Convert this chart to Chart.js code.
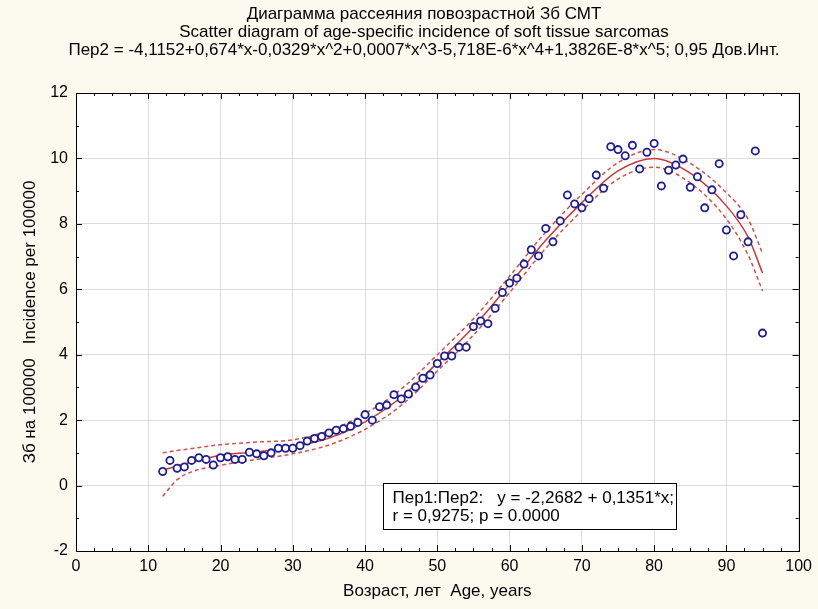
<!DOCTYPE html>
<html>
<head>
<meta charset="utf-8">
<script src="https://cdn.jsdelivr.net/npm/chart.js@4.4.1/dist/chart.umd.min.js"></script>
<style>
  html, body { margin: 0; padding: 0; background: #fcf9ef; }
  #wrap { width: 818px; height: 609px; position: relative; }
</style>
</head>
<body>
<div id="wrap"><canvas id="chart"></canvas></div>
<script>
// ages and incidence per 100000
const ages = [12, 13, 14, 15, 16, 17, 18, 19, 20, 21, 22, 23, 24, 25, 26, 27, 28, 29, 30, 31,
  32, 33, 34, 35, 36, 37, 38, 39, 40, 41, 42, 43, 44, 45, 46, 47, 48, 49, 50, 51,
  52, 53, 54, 55, 56, 57, 58, 59, 60, 61, 62, 63, 64, 65, 66, 67, 68, 69, 70, 71,
  72, 73, 74, 75, 76, 77, 78, 79, 80, 81, 82, 83, 84, 85, 86, 87, 88, 89, 90, 91,
  92, 93, 94, 95];
const incidence = [0.43, 0.77, 0.53, 0.57, 0.77, 0.85, 0.80, 0.63, 0.85, 0.88, 0.80, 0.80, 1.02, 0.97, 0.91, 1.00, 1.14, 1.14, 1.14, 1.22,
  1.36, 1.44, 1.50, 1.61, 1.69, 1.74, 1.81, 1.93, 2.17, 2.00, 2.41, 2.46, 2.78, 2.65, 2.80, 3.01, 3.28, 3.38, 3.73, 3.96,
  3.96, 4.23, 4.23, 4.86, 5.03, 4.95, 5.42, 5.90, 6.19, 6.34, 6.77, 7.21, 7.02, 7.86, 7.45, 8.09, 8.88, 8.61, 8.49, 8.77,
  9.49, 9.09, 10.36, 10.27, 10.08, 10.40, 9.68, 10.19, 10.46, 9.16, 9.64, 9.80, 9.98, 9.12, 9.44, 8.49, 9.04, 9.84, 7.81, 7.02,
  8.28, 7.45, 10.23, 4.66];

// fitted curve and 0.95 confidence band
const curveAges = [12, 14, 16, 20, 25, 30, 35, 40, 45, 50, 55, 60, 65, 70, 75, 80, 85, 90, 93, 95];
const fitValues = [0.47, 0.6, 0.72, 0.93, 1.03, 1.18, 1.45, 1.95, 2.7, 3.75, 4.85, 6.15, 7.5, 8.65, 9.62, 10.0, 9.55, 8.55, 7.6, 6.5];
const upperValues = [1.0, 1.07, 1.13, 1.25, 1.33, 1.4, 1.68, 2.2, 2.95, 4.0, 5.1, 6.4, 7.75, 8.9, 9.87, 10.27, 9.85, 8.95, 8.15, 7.1];
const lowerValues = [-0.33, 0.18, 0.42, 0.62, 0.8, 0.97, 1.24, 1.72, 2.45, 3.5, 4.6, 5.9, 7.25, 8.4, 9.37, 9.73, 9.25, 8.15, 7.05, 5.95];

const titleLines = [
  "Диаграмма рассеяния повозрастной Зб СМТ",
  "Scatter diagram of age-specific incidence of soft tissue sarcomas",
  "Пер2 = -4,1152+0,674*x-0,0329*x^2+0,0007*x^3-5,718E-6*x^4+1,3826E-8*x^5; 0,95 Дов.Инт."
];
const boxLines = ["Пер1:Пер2:   y = -2,2682 + 0,1351*x;", "r = 0,9275; p = 0.0000"];

const FONT = "'Liberation Sans', Arial, sans-serif";

const toXY = (xs, ys) => xs.map((x, i) => ({ x: x, y: ys[i] }));

// white plot area, titles, frame, inner ticks and the regression box
const plotDecor = {
  id: "plotDecor",
  beforeDraw(chart) {
    const { ctx, chartArea: a } = chart;
    ctx.save();
    ctx.fillStyle = "#ffffff";
    ctx.fillRect(a.left, a.top, a.right - a.left, a.bottom - a.top);
    // three title lines, centred a bit right of the canvas middle as in the original
    ctx.fillStyle = "#000";
    ctx.font = "17px " + FONT;
    ctx.textAlign = "center";
    ctx.textBaseline = "middle";
    titleLines.forEach((t, i) => ctx.fillText(t, 424, 14 + i * 18));
    ctx.restore();
  },
  afterDatasetsDraw(chart) {
    const { ctx, chartArea: a, scales } = chart;
    const xs = scales.x, ys = scales.y;
    ctx.save();
    ctx.strokeStyle = "#000";
    ctx.lineWidth = 1;
    ctx.beginPath();
    for (let v = 0; v <= 100; v += 2.5) {
      const len = v % 10 === 0 ? 6 : 3;
      const px = Math.round(xs.getPixelForValue(v)) + 0.5;
      ctx.moveTo(px, a.bottom); ctx.lineTo(px, a.bottom - len);
      ctx.moveTo(px, a.top); ctx.lineTo(px, a.top + len);
    }
    for (let v = -2; v <= 12; v += 1) {
      const len = v % 2 === 0 ? 6 : 3;
      const py = Math.round(ys.getPixelForValue(v)) + 0.5;
      ctx.moveTo(a.left, py); ctx.lineTo(a.left + len, py);
      ctx.moveTo(a.right, py); ctx.lineTo(a.right - len, py);
    }
    ctx.stroke();
    ctx.strokeRect(Math.round(a.left) + 0.5, Math.round(a.top) + 0.5,
      Math.round(a.right - a.left), Math.round(a.bottom - a.top));

    // regression box
    const bx = Math.round(xs.getPixelForValue(42.5)) + 0.5;
    const bx2 = Math.round(xs.getPixelForValue(83)) + 0.5;
    const by = Math.round(ys.getPixelForValue(0.08)) + 0.5;
    const by2 = Math.round(ys.getPixelForValue(-1.32)) + 0.5;
    ctx.fillStyle = "#fff";
    ctx.fillRect(bx, by, bx2 - bx, by2 - by);
    ctx.strokeRect(bx, by, bx2 - bx, by2 - by);
    ctx.fillStyle = "#000";
    ctx.font = "17px " + FONT;
    ctx.textBaseline = "middle";
    ctx.fillText(boxLines[0], bx + 9, by + 15);
    ctx.fillText(boxLines[1], bx + 9, by + 33);
    ctx.restore();
  }
};

const config = {
  type: "scatter",
  data: {
    datasets: [
      {
        label: "Зб",
        data: toXY(ages, incidence),
        showLine: false,
        pointStyle: "circle",
        pointRadius: 3.6,
        pointBorderWidth: 1.8,
        borderColor: "#1e1e8c",
        backgroundColor: "#ffffff",
        order: 0
      },
      {
        label: "fit",
        data: toXY(curveAges, fitValues),
        showLine: true,
        pointRadius: 0,
        borderColor: "#c83a3a",
        borderWidth: 1.5,
        cubicInterpolationMode: "monotone",
        order: 1
      },
      {
        label: "upper",
        data: toXY(curveAges, upperValues),
        showLine: true,
        pointRadius: 0,
        borderColor: "#d0504a",
        borderWidth: 1.5,
        borderDash: [4, 3],
        cubicInterpolationMode: "monotone",
        order: 2
      },
      {
        label: "lower",
        data: toXY(curveAges, lowerValues),
        showLine: true,
        pointRadius: 0,
        borderColor: "#d0504a",
        borderWidth: 1.5,
        borderDash: [4, 3],
        cubicInterpolationMode: "monotone",
        order: 3
      }
    ]
  },
  options: {
    responsive: true,
    maintainAspectRatio: false,
    devicePixelRatio: 1,
    animation: false,
    layout: { padding: { top: 93, right: 18, left: 0, bottom: 0 } },
    plugins: {
      legend: { display: false },
      tooltip: { enabled: false },
      title: { display: false }
    },
    scales: {
      x: {
        type: "linear",
        min: 0,
        max: 100,
        afterFit: (s) => { s.height = 58; },
        ticks: { stepSize: 10, color: "#000", padding: 6, font: { family: FONT, size: 16 } },
        grid: { color: "#dcdcdc", drawTicks: false },
        border: { display: false },
        title: {
          display: true,
          text: "Возраст, лет  Age, years",
          color: "#000",
          font: { family: FONT, size: 17 },
          padding: { top: 0, bottom: 7 }
        }
      },
      y: {
        type: "linear",
        min: -2,
        max: 12,
        afterFit: (s) => { s.width = 76; },
        ticks: { stepSize: 2, color: "#000", padding: 8, font: { family: FONT, size: 16 } },
        grid: { color: "#dcdcdc", drawTicks: false },
        border: { display: false },
        title: {
          display: true,
          text: "Зб на 100000   Incidence per 100000",
          color: "#000",
          font: { family: FONT, size: 17 },
          padding: { top: 20, bottom: 0 }
        }
      }
    }
  },
  plugins: [plotDecor]
};

const ctx = document.getElementById("chart").getContext("2d");
const chart = new Chart(ctx, config);
</script>
</body>
</html>
